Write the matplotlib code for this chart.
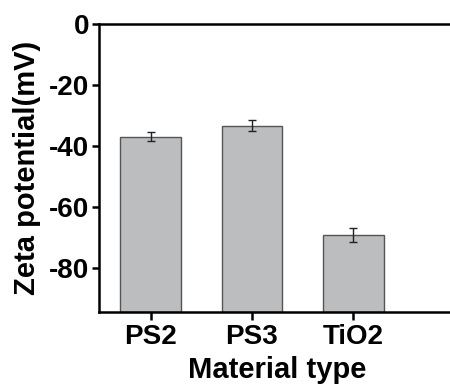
import matplotlib.pyplot as plt

materials = ['PS2', 'PS3', 'TiO2']
zeta = [-37.0, -33.4, -69.3]
zeta_err = [1.4, 1.75, 2.4]

plt.rcParams['font.family'] = ['Liberation Sans', 'DejaVu Sans']
plt.rcParams['font.weight'] = 'bold'
plt.rcParams['axes.unicode_minus'] = False

fig = plt.figure(figsize=(4.5, 3.86), dpi=100)
ax = fig.add_axes([0.22, 0.192, 0.79, 0.746])

ymin = -94.5
x = range(len(materials))
# bars rise from the bottom of the axis, as in the original
heights = [v - ymin for v in zeta]
ax.bar(x, heights, bottom=ymin, width=0.6, color='#bcbdbf',
       edgecolor='#555555', linewidth=1.0)
ax.errorbar(x, zeta, yerr=zeta_err, fmt='none', ecolor='#222222',
            elinewidth=1.0, capsize=3, capthick=1.0)

ax.set_xlim(-0.51, 3.0)
ax.set_ylim(ymin, 0)
ax.set_yticks([0, -20, -40, -60, -80])
ax.set_xticks(list(x))
ax.set_xticklabels(materials)

for s in ['left', 'top', 'bottom']:
    ax.spines[s].set_linewidth(1.8)
ax.spines['right'].set_visible(False)

ax.tick_params(axis='y', direction='out', length=5, width=1.8, labelsize=20, pad=2)
ax.tick_params(axis='x', direction='out', length=6, width=1.8, labelsize=20, pad=3)

ax.set_xlabel('Material type', fontsize=21, fontweight='bold', labelpad=4)
ax.set_ylabel('Zeta potential(mV)', fontsize=21, fontweight='bold', labelpad=6)

fig.savefig('out.png', dpi=100)
